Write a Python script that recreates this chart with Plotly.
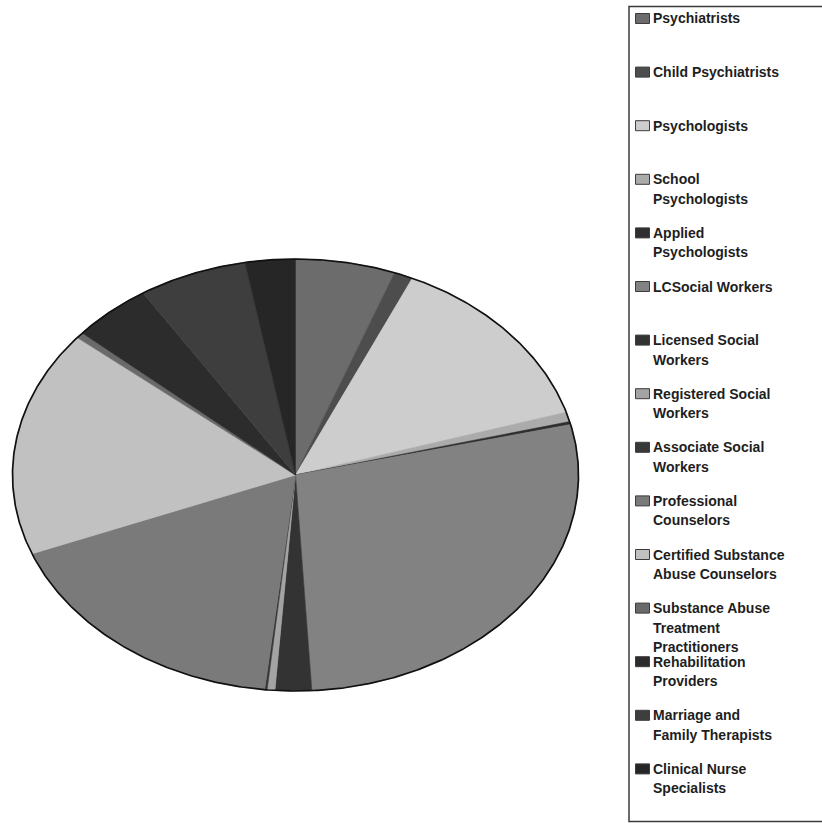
import numpy as np
import plotly.graph_objects as go

# ---- data ----
categories = [
    "Psychiatrists", "Child Psychiatrists", "Psychologists", "School Psychologists",
    "Applied Psychologists", "LCSocial Workers", "Licensed Social Workers",
    "Registered Social Workers", "Associate Social Workers", "Professional Counselors",
    "Certified Substance Abuse Counselors", "Substance Abuse Treatment Practitioners",
    "Rehabilitation Providers", "Marriage and Family Therapists", "Clinical Nurse Specialists",
]
values = [5.69, 1.08, 13.53, 0.72, 0.22, 27.83, 2.08, 0.44, 0.14, 17.31, 16.92, 0.44, 4.53, 6.19, 2.86]
legend_lines = [
    ["Psychiatrists"], ["Child Psychiatrists"], ["Psychologists"], ["School", "Psychologists"],
    ["Applied", "Psychologists"], ["LCSocial Workers"], ["Licensed Social", "Workers"],
    ["Registered Social", "Workers"], ["Associate Social", "Workers"], ["Professional", "Counselors"],
    ["Certified Substance", "Abuse Counselors"], ["Substance Abuse", "Treatment", "Practitioners"],
    ["Rehabilitation", "Providers"], ["Marriage and", "Family Therapists"], ["Clinical Nurse", "Specialists"],
]
colors = [
    "#6c6c6c", "#4d4d4d", "#cdcdcd", "#ababab", "#2f2f2f", "#828282", "#333333",
    "#a3a3a3", "#383838", "#7a7a7a", "#c1c1c1", "#6a6a6a", "#2c2c2c", "#3e3e3e", "#262626",
]

W, H = 822, 823
def px_x(x):
    return x / W
def px_y(y):
    return 1 - y / H

fig = go.Figure()

vals = np.array(values, dtype=float)
frac = vals / vals.sum()
cum = np.concatenate([[0], np.cumsum(frac)])
for i, name in enumerate(categories):
    t0, t1 = cum[i] * 2 * np.pi, cum[i + 1] * 2 * np.pi
    n = max(3, int(np.ceil((t1 - t0) / (2 * np.pi) * 400)))
    th = np.linspace(t0, t1, n)
    xs = np.concatenate([[0], np.sin(th), [0]])
    ys = np.concatenate([[0], np.cos(th), [0]])
    fig.add_trace(go.Scatter(
        x=xs, y=ys, mode="lines", fill="toself", fillcolor=colors[i],
        line=dict(color=colors[i], width=0.6), name=name, showlegend=False,
        hoverinfo="name",
    ))

th = np.linspace(0, 2 * np.pi, 721)
fig.add_trace(go.Scatter(x=np.sin(th), y=np.cos(th), mode="lines",
                         line=dict(color="#111111", width=1.7), showlegend=False,
                         hoverinfo="skip"))

# pie geometry (pixels): centre (295.5, 475), radii 283 x 216
cx, cy, rx, ry, pad = 295.5, 475.0, 283.0, 216.0, 1.02
fig.update_xaxes(range=[-pad, pad], domain=[px_x(cx - rx * pad), px_x(cx + rx * pad)],
                 visible=False, fixedrange=True)
fig.update_yaxes(range=[-pad, pad], domain=[(H - cy - ry * pad) / H, (H - cy + ry * pad) / H],
                 visible=False, fixedrange=True)

shapes = []
annotations = []
# legend frame
shapes.append(dict(type="rect", xref="paper", yref="paper",
                   x0=px_x(629), x1=px_x(835), y0=px_y(821.5), y1=px_y(6.5),
                   line=dict(color="#3a3a3a", width=1.5), fillcolor="rgba(0,0,0,0)"))
y_first, step, lstep = 18.5, 53.6, 19.5
for i, lines in enumerate(legend_lines):
    yc = y_first + i * step
    shapes.append(dict(type="rect", xref="paper", yref="paper",
                       x0=px_x(635.5), x1=px_x(649.5), y0=px_y(yc + 5), y1=px_y(yc - 5),
                       line=dict(color="#3c3c3c", width=1), fillcolor=colors[i]))
    for j, txt in enumerate(lines):
        annotations.append(dict(
            xref="paper", yref="paper", x=px_x(651), y=px_y(yc + j * lstep),
            xanchor="left", yanchor="middle", showarrow=False,
            text="<b>" + txt + "</b>",
            font=dict(family="Liberation Sans, Arial, sans-serif", size=14, color="#1e1e1e"),
        ))

fig.update_layout(
    width=W, height=H, margin=dict(l=0, r=0, t=0, b=0),
    paper_bgcolor="white", plot_bgcolor="rgba(0,0,0,0)",
    showlegend=False, shapes=shapes, annotations=annotations,
)

fig.write_html("out.html")
